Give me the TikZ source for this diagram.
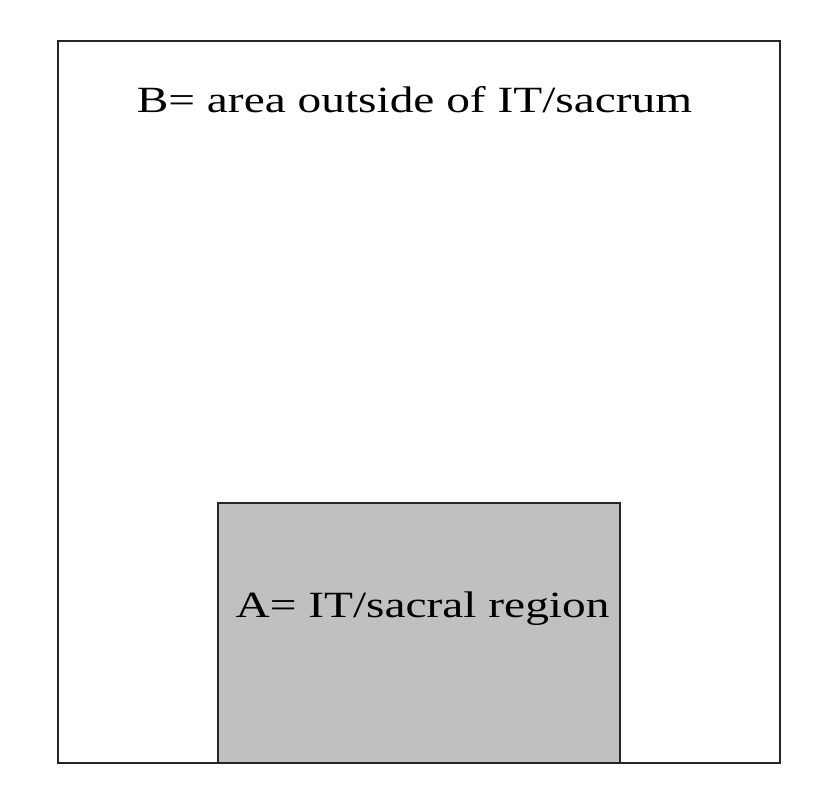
\documentclass[tikz,border=0pt]{standalone}
\usepackage{fontspec}
\setmainfont{Liberation Serif}
\usepackage{tikz}
\usetikzlibrary{positioning}
\definecolor{regiongray}{RGB}{192,192,192}
\tikzset{
  areabox/.style={rectangle, draw=black!85, line width=2pt, inner sep=0pt},
  regionbox/.style={rectangle, draw=black!85, fill=regiongray, line width=2pt, inner sep=0pt},
  lbl/.style={font=\fontsize{37}{44}\selectfont, inner sep=0pt, anchor=base, xscale=1.28}
}
\begin{document}
\begin{tikzpicture}[x=1pt, y=-1pt]
  \useasboundingbox (0,0) rectangle (831,796);
  % Boxes
  \node[areabox, minimum width=722.5pt, minimum height=722.3pt] (areaB) at (418.75,401.85) {};
  \node[regionbox, minimum width=402pt, minimum height=260.5pt] (regionA) at (419,632.8) {};

  % Labels
  \node[lbl] (lblB) at (414.5,112) {B= area outside of IT/sacrum};
  \node[lbl] (lblA) at (422.5,617) {A= IT/sacral region};
\end{tikzpicture}
\end{document}
